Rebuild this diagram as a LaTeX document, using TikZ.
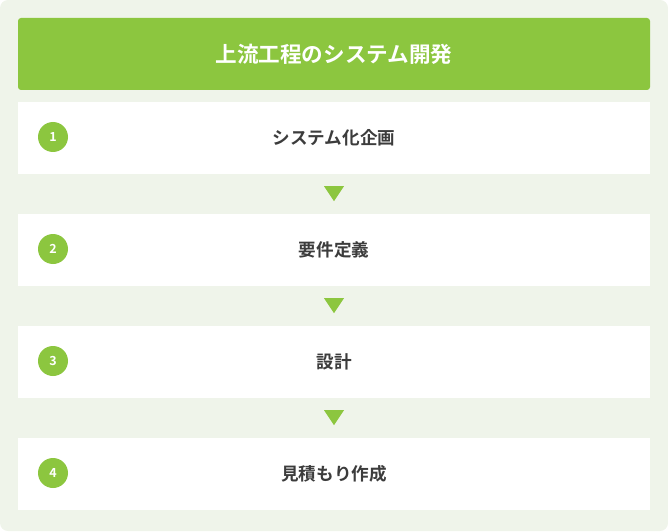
\documentclass[tikz,border=0pt]{standalone}
\usepackage{fontspec}
\usepackage{xcolor}
\usetikzlibrary{positioning,calc}
\newfontfamily\jpfont{Noto Sans CJK JP}
\newfontfamily\jpbold{Noto Sans CJK JP Bold}
\definecolor{bggreen}{HTML}{EFF4EA}
\definecolor{leaf}{HTML}{8CC63F}
\definecolor{ink}{HTML}{3C3C3C}

\tikzset{
  titlebox/.style={fill=leaf, rounded corners=3pt, minimum width=632pt, minimum height=72pt,
    text=white, font=\jpbold\fontsize{21.6}{24}\selectfont},
  rowbox/.style={fill=white, minimum width=632pt, minimum height=72pt,
    text=ink, font=\jpbold\fontsize{17.6}{20}\selectfont},
  numdot/.style={circle, fill=leaf, minimum size=30pt, inner sep=0pt,
    text=white, font=\jpbold\fontsize{12.5}{13}\selectfont},
  downmark/.style={fill=leaf}
}

\begin{document}
\begin{tikzpicture}[x=1pt,y=1pt]
  % background
  \fill[bggreen, rounded corners=8pt] (0,0) rectangle (668,531);
  \useasboundingbox (0,0) rectangle (668,531);

  \node[titlebox] (title) at (334,477) {上流工程のシステム開発};

  \node[rowbox] (planning) at (334,393) {システム化企画};
  \node[rowbox] (require) at (334,281) {要件定義};
  \node[rowbox] (design) at (334,169) {設計};
  \node[rowbox] (estimate) at (334,57) {見積もり作成};

  \node[numdot] (n1) at (53,394) {1};
  \node[numdot] (n2) at (53,282) {2};
  \node[numdot] (n3) at (53,170) {3};
  \node[numdot] (n4) at (53,58) {4};

  % arrows between steps
  \fill[downmark] ($(planning.south)+(-10,-12)$) -- ++(20,0) -- ++(-10,-15) -- cycle;
  \fill[downmark] ($(require.south)+(-10,-12)$) -- ++(20,0) -- ++(-10,-15) -- cycle;
  \fill[downmark] ($(design.south)+(-10,-12)$) -- ++(20,0) -- ++(-10,-15) -- cycle;

\end{tikzpicture}
\end{document}
